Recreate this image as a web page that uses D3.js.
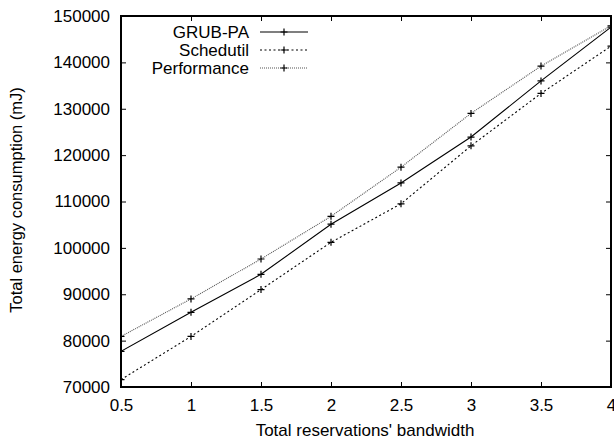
<!DOCTYPE html>
<html><head><meta charset="utf-8">
<script src="https://cdn.jsdelivr.net/npm/d3@7"></script>
<style>
body{margin:0;background:#fff;}
svg text{font-family:"Liberation Sans",Arial,sans-serif;font-size:17px;fill:#000;}
</style></head>
<body><svg id="c" width="614" height="440"></svg>
<script>
const xValues = [0.5, 1, 1.5, 2, 2.5, 3, 3.5, 4];
const grubPA = [77700, 86100, 94300, 105100, 114000, 123900, 136000, 147600];
const schedutil = [71600, 80900, 91000, 101200, 109500, 122000, 133300, 143500];
const performance = [80900, 89000, 97600, 106800, 117400, 129000, 139200, 147900];
const seriesNames = ["GRUB-PA", "Schedutil", "Performance"];
const xTicks = [0.5, 1, 1.5, 2, 2.5, 3, 3.5, 4];
const yTicks = [70000, 80000, 90000, 100000, 110000, 120000, 130000, 140000, 150000];

const svg = d3.select("#c");
const L = 121, R = 611, T = 16, B = 387;
const x = d3.scaleLinear().domain([0.5, 4]).range([L, R]);
const y = d3.scaleLinear().domain([70000, 150000]).range([B, T]);

const styles = [
  {stroke:"#000", dash:null, w:1.1},
  {stroke:"#000", dash:"2,2.5", w:1.1},
  {stroke:"#555", dash:"1,1", w:1.1}
];
const data = [grubPA, schedutil, performance];

svg.append("defs").append("clipPath").attr("id","cp")
  .append("rect").attr("x",L).attr("y",T).attr("width",R-L).attr("height",B-T);

const g = svg.append("g").attr("clip-path","url(#cp)");
const line = d3.line().x((d,i)=>x(xValues[i])).y(d=>y(d));
data.forEach((s,k)=>{
  g.append("path").attr("d",line(s)).attr("fill","none")
    .attr("stroke",styles[k].stroke).attr("stroke-width",styles[k].w)
    .attr("stroke-dasharray",styles[k].dash);
  g.selectAll(null).data(s).enter().append("path")
    .attr("d",(d,i)=>{const cx=x(xValues[i]), cy=y(d); return `M${cx-3.5},${cy}H${cx+3.5}M${cx},${cy-3.5}V${cy+3.5}`;})
    .attr("stroke","#000").attr("stroke-width",1.2);
});

const ax = svg.append("g");
const xb = d3.axisBottom(x).tickValues(xTicks).tickSize(-5).tickPadding(12).tickFormat(d=>d3.format("")(d));
const xt = d3.axisTop(x).tickValues(xTicks).tickSize(-5).tickFormat("");
const yl = d3.axisLeft(y).tickValues(yTicks).tickSize(-5).tickPadding(11).tickFormat(d3.format("d"));
const yr = d3.axisRight(y).tickValues(yTicks).tickSize(-5).tickFormat("");
ax.append("g").attr("transform",`translate(0,${B})`).call(xb);
ax.append("g").attr("transform",`translate(0,${T})`).call(xt);
ax.append("g").attr("transform",`translate(${L},0)`).call(yl);
ax.append("g").attr("transform",`translate(${R},0)`).call(yr);
ax.selectAll(".domain").remove();
ax.selectAll(".tick line").attr("stroke","#000").attr("stroke-width",1);
ax.selectAll(".tick text").style("font-size","17px").attr("font-family",null);
svg.append("rect").attr("x",L).attr("y",T).attr("width",R-L).attr("height",B-T)
  .attr("fill","none").attr("stroke","#000").attr("stroke-width",2);

svg.append("text").attr("x",(L+R)/2 - 1).attr("y",436).attr("text-anchor","middle")
  .text("Total reservations' bandwidth");
svg.append("text").attr("transform",`translate(22,200) rotate(-90)`).attr("text-anchor","middle")
  .style("font-size","16.5px").text("Total energy consumption (mJ)");

const ly = [32, 50, 68];
seriesNames.forEach((n,k)=>{
  svg.append("text").attr("x",249).attr("y",ly[k]).attr("dy","0.35em").attr("text-anchor","end").text(n);
  svg.append("line").attr("x1",260).attr("x2",308).attr("y1",ly[k]).attr("y2",ly[k])
    .attr("stroke",styles[k].stroke).attr("stroke-width",styles[k].w).attr("stroke-dasharray",styles[k].dash);
  svg.append("path").attr("d",`M280.5,${ly[k]}H287.5M284,${ly[k]-3.5}V${ly[k]+3.5}`)
    .attr("stroke","#000").attr("stroke-width",1.2);
});
</script></body></html>
